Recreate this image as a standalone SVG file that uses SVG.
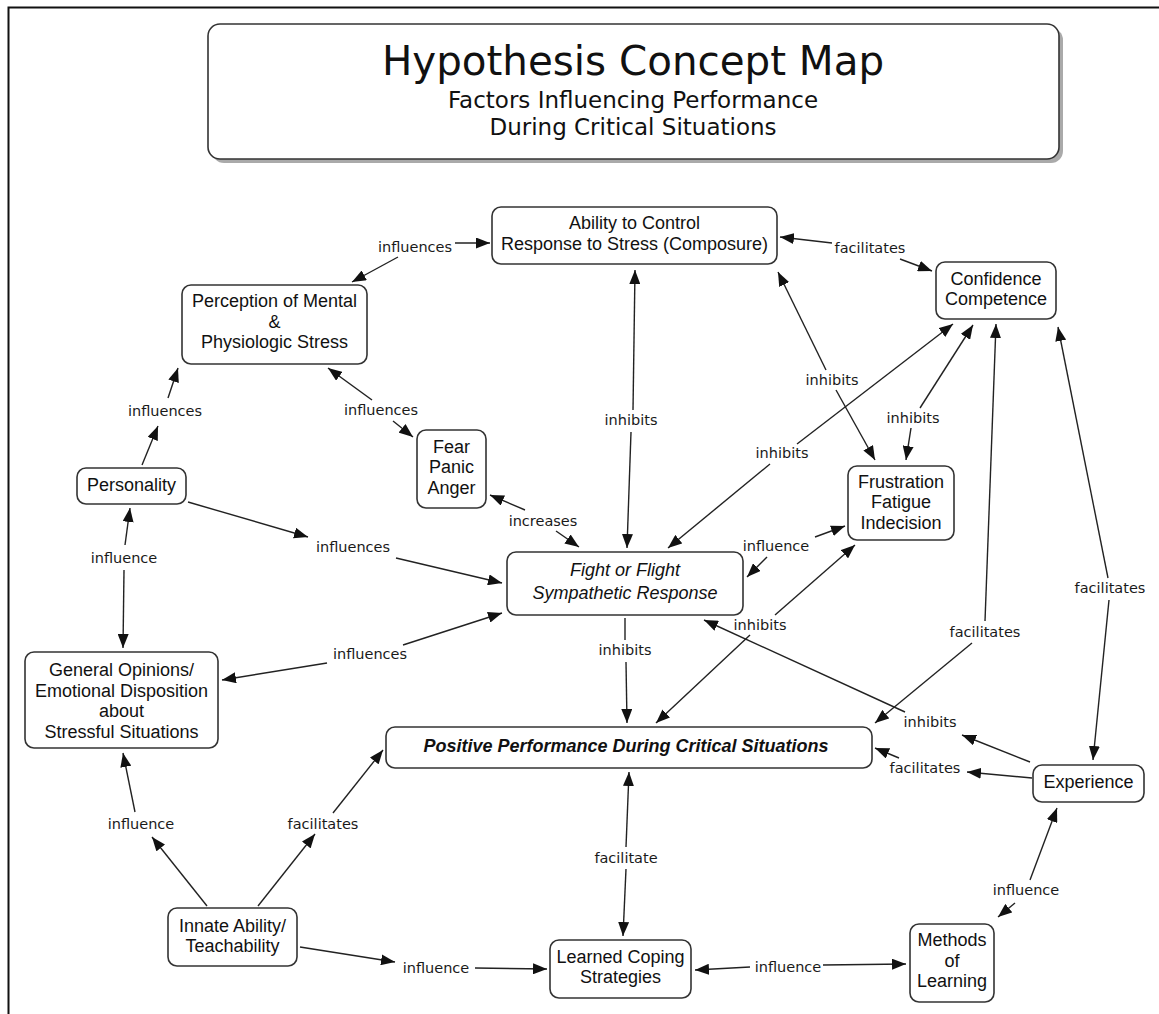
<svg xmlns="http://www.w3.org/2000/svg" width="1159" height="1014" viewBox="0 0 1159 1014">
<defs>
<marker id="ah" markerUnits="userSpaceOnUse" markerWidth="14" markerHeight="11" refX="14" refY="5.5" orient="auto"><path d="M0,0 L14,5.5 L0,11 z" fill="#111"/></marker>
</defs>
<style>
.node rect{fill:#fff;stroke:#333;stroke-width:1.6}
.nt{font-family:"Liberation Sans",Arial,sans-serif;font-size:18px;fill:#111;text-anchor:middle}
.lb{font-family:"DejaVu Sans",Verdana,sans-serif;font-size:14.5px;fill:#1a1a1a;text-anchor:middle}
#connectors path{fill:none;stroke:#222;stroke-width:1.4}
#connectors path.a{marker-end:url(#ah)}
.tt{font-family:"DejaVu Sans",Verdana,sans-serif;fill:#111;text-anchor:middle}
</style>
<rect width="1159" height="1014" fill="#fff"/>
<path d="M8.5,1014 L8.5,7.5 L1159,7.5" fill="none" stroke="#111" stroke-width="2"/>

<g id="title">
<rect x="212" y="28" width="851" height="135" rx="12" fill="#aaa"/>
<rect x="208" y="24" width="851" height="135" rx="12" fill="#fff" stroke="#333" stroke-width="1.6"/>
<text class="tt" x="633" y="75" font-size="40.4">Hypothesis Concept Map</text>
<text class="tt" x="633" y="108" font-size="23">Factors Influencing Performance</text>
<text class="tt" x="633" y="135" font-size="23">During Critical Situations</text>
</g>

<g id="connectors">
<path class="a" d="M398,257 L352,282"/><path class="a" d="M455,243 L490,243"/>
<path class="a" d="M832,243 L780,237"/><path class="a" d="M900,259 L932,271"/>
<path class="a" d="M633,410 L635,270"/><path class="a" d="M631,432 L627,548"/>
<path class="a" d="M826,370 L778,272"/><path class="a" d="M836,390 L875,460"/>
<path class="a" d="M920,408 L973,325"/><path class="a" d="M911,428 L906,460"/>
<path class="a" d="M797,444 L953,324"/><path class="a" d="M770,464 L668,548"/>
<path class="a" d="M985,621 L996,324"/><path class="a" d="M972,643 L875,723"/>
<path class="a" d="M1108,578 L1058,327"/><path class="a" d="M1109,600 L1093,760"/>
<path class="a" d="M372,400 L328,368"/><path class="a" d="M393,421 L413,437"/>
<path class="a" d="M142,465 L158,426"/><path class="a" d="M168,398 L178,368"/>
<path class="a" d="M125,545 L130,508"/><path class="a" d="M124,570 L123,648"/>
<path class="a" d="M188,502 L308,537"/><path class="a" d="M396,558 L502,583"/>
<path class="a" d="M403,645 L502,613"/><path class="a" d="M327,663 L222,680"/>
<path class="a" d="M525,510 L490,495"/><path class="a" d="M556,531 L579,547"/>
<path class="a" d="M767,557 L747,577"/><path class="a" d="M815,537 L845,526"/>
<path class="a" d="M775,615 L855,545"/><path class="a" d="M750,635 L656,723"/>
<path d="M625,618 L625,640"/><path class="a" d="M626,662 L627,723"/>
<path class="a" d="M1030,762 L962,735"/><path class="a" d="M905,712 L704,620"/>
<path class="a" d="M1032,778 L967,772"/><path class="a" d="M899,758 L875,748"/>
<path class="a" d="M626,847 L629,772"/><path class="a" d="M626,869 L623,936"/>
<path class="a" d="M207,906 L152,837"/><path class="a" d="M135,812 L123,753"/>
<path class="a" d="M258,906 L315,834"/><path class="a" d="M333,813 L383,750"/>
<path class="a" d="M300,947 L395,962"/><path class="a" d="M475,968 L547,969"/>
<path class="a" d="M750,967 L695,970"/><path class="a" d="M823,965 L906,964"/>
<path class="a" d="M1015,903 L998,917"/><path class="a" d="M1030,880 L1057,808"/>
<text class="lb" x="415" y="252">influences</text>
<text class="lb" x="870" y="253">facilitates</text>
<text class="lb" x="631" y="425">inhibits</text>
<text class="lb" x="832" y="385">inhibits</text>
<text class="lb" x="913" y="423">inhibits</text>
<text class="lb" x="782" y="458">inhibits</text>
<text class="lb" x="985" y="637">facilitates</text>
<text class="lb" x="1110" y="593">facilitates</text>
<text class="lb" x="381" y="415">influences</text>
<text class="lb" x="165" y="416">influences</text>
<text class="lb" x="124" y="563">influence</text>
<text class="lb" x="353" y="552">influences</text>
<text class="lb" x="370" y="659">influences</text>
<text class="lb" x="543" y="526">increases</text>
<text class="lb" x="776" y="551">influence</text>
<text class="lb" x="760" y="630">inhibits</text>
<text class="lb" x="625" y="655">inhibits</text>
<text class="lb" x="930" y="727">inhibits</text>
<text class="lb" x="925" y="773">facilitates</text>
<text class="lb" x="626" y="863">facilitate</text>
<text class="lb" x="141" y="829">influence</text>
<text class="lb" x="323" y="829">facilitates</text>
<text class="lb" x="436" y="973">influence</text>
<text class="lb" x="788" y="972">influence</text>
<text class="lb" x="1026" y="895">influence</text>
</g>

<g id="ability" class="node"><rect x="492" y="207" width="285" height="57" rx="9"/>
<text class="nt" x="634.5" y="229">Ability to Control</text><text class="nt" x="634.5" y="250">Response to Stress (Composure)</text></g>
<g id="perception" class="node"><rect x="182" y="285" width="185" height="79" rx="9"/>
<text class="nt" x="274.5" y="307">Perception of Mental</text><text class="nt" x="274.5" y="328">&amp;</text><text class="nt" x="274.5" y="348">Physiologic Stress</text></g>
<g id="confidence" class="node"><rect x="936" y="262" width="120" height="57" rx="9"/>
<text class="nt" x="996" y="285">Confidence</text><text class="nt" x="996" y="305">Competence</text></g>
<g id="frustration" class="node"><rect x="848" y="466" width="106" height="74" rx="9"/>
<text class="nt" x="901" y="488">Frustration</text><text class="nt" x="901" y="508">Fatigue</text><text class="nt" x="901" y="529">Indecision</text></g>
<g id="personality" class="node"><rect x="77" y="468" width="109" height="36" rx="9"/>
<text class="nt" x="131.5" y="491">Personality</text></g>
<g id="fear" class="node"><rect x="417" y="430" width="69" height="78" rx="9"/>
<text class="nt" x="451.5" y="453">Fear</text><text class="nt" x="451.5" y="473">Panic</text><text class="nt" x="451.5" y="494">Anger</text></g>
<g id="fight" class="node"><rect x="507" y="552" width="236" height="63" rx="9"/>
<text class="nt" x="625" y="576" font-size="20" font-style="italic">Fight or Flight</text><text class="nt" x="625" y="599" font-size="20" font-style="italic">Sympathetic Response</text></g>
<g id="general" class="node"><rect x="25" y="652" width="193" height="96" rx="9"/>
<text class="nt" x="121.5" y="676">General Opinions/</text><text class="nt" x="121.5" y="697">Emotional Disposition</text><text class="nt" x="121.5" y="717">about</text><text class="nt" x="121.5" y="738">Stressful Situations</text></g>
<g id="positive" class="node"><rect x="386" y="727" width="486" height="41" rx="9"/>
<text class="nt" x="626" y="752" font-size="20" font-style="italic" font-weight="bold">Positive Performance During Critical Situations</text></g>
<g id="experience" class="node"><rect x="1033" y="765" width="111" height="37" rx="9"/>
<text class="nt" x="1088.5" y="788">Experience</text></g>
<g id="innate" class="node"><rect x="168" y="908" width="129" height="58" rx="9"/>
<text class="nt" x="232.5" y="932">Innate Ability/</text><text class="nt" x="232.5" y="952">Teachability</text></g>
<g id="learned" class="node"><rect x="550" y="940" width="141" height="58" rx="9"/>
<text class="nt" x="620.5" y="963">Learned Coping</text><text class="nt" x="620.5" y="983">Strategies</text></g>
<g id="methods" class="node"><rect x="910" y="924" width="84" height="78" rx="9"/>
<text class="nt" x="952" y="946">Methods</text><text class="nt" x="952" y="967">of</text><text class="nt" x="952" y="987">Learning</text></g>
</svg>
